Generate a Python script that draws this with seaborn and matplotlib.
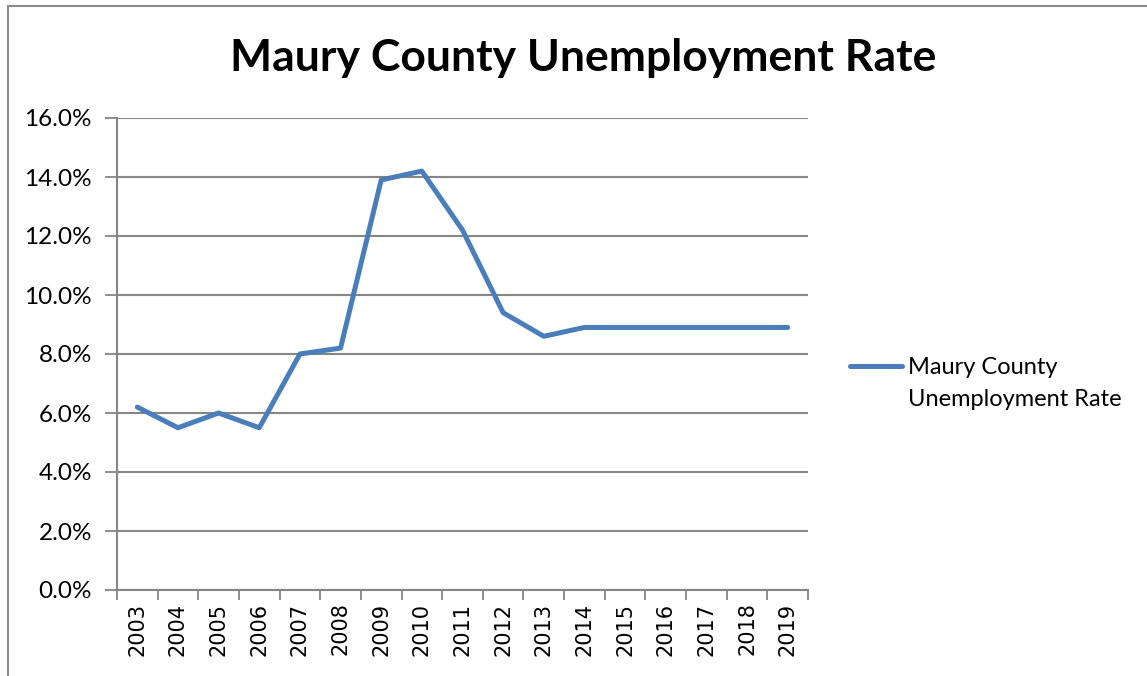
import numpy as np
import pandas as pd
import seaborn as sns
import matplotlib.pyplot as plt
from matplotlib.ticker import FuncFormatter, FixedLocator

years = [str(y) for y in range(2003, 2020)]
rates = [6.2, 5.5, 6.0, 5.5, 8.0, 8.2, 13.9, 14.2, 12.2, 9.4, 8.6, 8.9, 8.9, 8.9, 8.9, 8.9, 8.9]
title = "Maury County Unemployment Rate"
legend_lines = ["Maury County", "Unemployment Rate"]

df = pd.DataFrame({"pos": np.arange(len(years)), "year": years, "rate": rates})

sns.set_style("white")
plt.rcParams['font.family'] = ['Lato', 'DejaVu Sans']
plt.rcParams['text.color'] = 'black'
plt.rcParams['xtick.labelcolor'] = 'black'
plt.rcParams['ytick.labelcolor'] = 'black'

fig = plt.figure(figsize=(11.47, 6.76), dpi=100)
ax = fig.add_axes([117/1147, 1-590/676, (808-117)/1147, (590-118)/676])

sns.lineplot(data=df, x="pos", y="rate", ax=ax, color="#4A7EBB", linewidth=3.6,
             label=legend_lines[0], legend=False)

grey = "#868686"
ax.set_ylim(0, 16)
ax.set_xlim(-0.5, len(years) - 0.5)
ax.set_yticks(np.arange(0, 17, 2))
ax.yaxis.set_major_formatter(FuncFormatter(lambda v, p: f"{v:.1f}%"))
ax.yaxis.grid(True, color=grey, linewidth=1.5)
ax.set_axisbelow(True)
ax.set_xticks(df["pos"])
ax.set_xticklabels(years, rotation=90, family="DejaVu Sans")
ax.xaxis.set_minor_locator(FixedLocator(np.arange(-0.5, len(years), 1)))
ax.tick_params(axis="x", which="major", length=0, pad=9, labelsize=15)
ax.tick_params(axis="x", which="minor", length=7, width=1.3, color=grey, direction="out", bottom=True)
ax.tick_params(axis="y", length=9, width=1.3, color=grey, direction="out", left=True, labelsize=17.5, pad=9)
for s in ["top", "right"]:
    ax.spines[s].set_visible(False)
for s in ["left", "bottom"]:
    ax.spines[s].set_color(grey)
    ax.spines[s].set_linewidth(1.5)
ax.set_xlabel("")
ax.set_ylabel("")

fig.text(583/1147, 1-58/676, title, ha="center", va="center", fontsize=32, fontweight="bold")

h, l = ax.get_legend_handles_labels()
fig.legend(h, l, loc="center left", bbox_to_anchor=(850/1147, 1-368/676), frameon=False,
           fontsize=17, handlelength=2.2, handletextpad=0.25, borderaxespad=0, borderpad=0)
fig.text(908/1147, 1-400/676, legend_lines[1], ha="left", va="center", fontsize=17)

# outer chart border
fig.add_artist(plt.Line2D([8/1147, 8/1147], [0, 1-6/676], transform=fig.transFigure, color="#8c8c8c", linewidth=1.5))
fig.add_artist(plt.Line2D([8/1147, 1], [1-6/676, 1-6/676], transform=fig.transFigure, color="#8c8c8c", linewidth=1.5))

fig.savefig("out.png", dpi=100)
